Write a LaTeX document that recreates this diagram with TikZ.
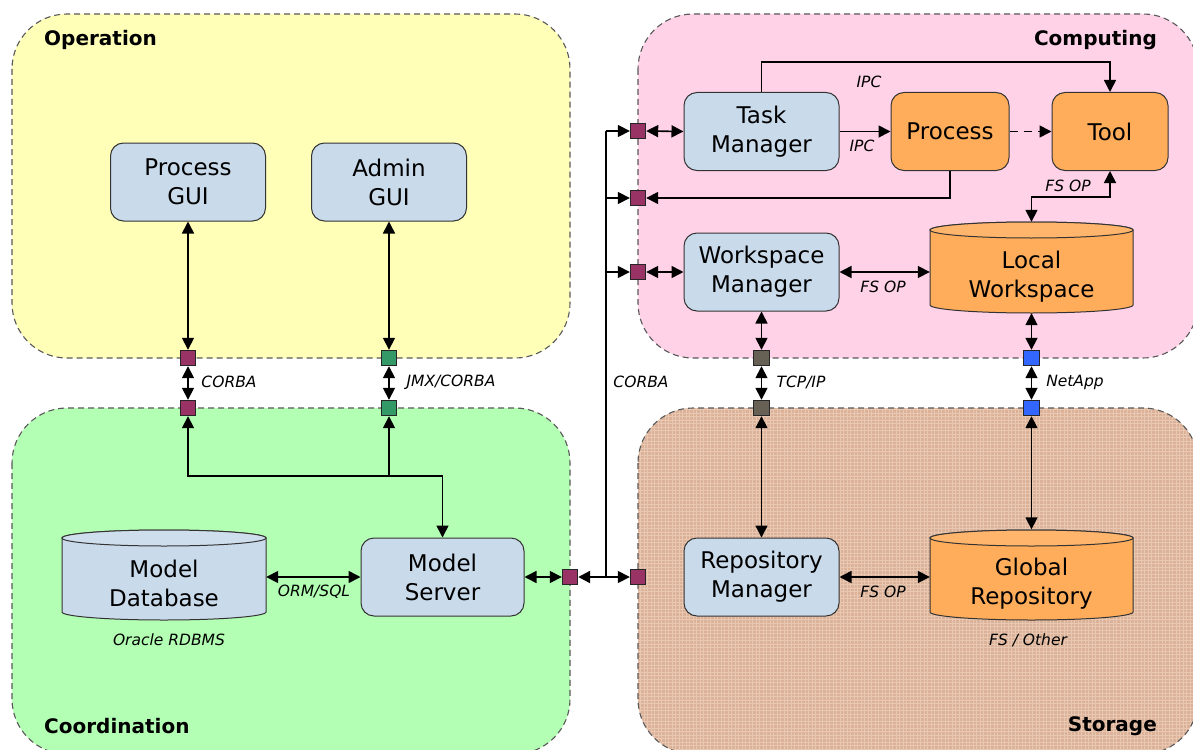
\documentclass[tikz,border=0pt]{standalone}
\usepackage{fontspec}
\setmainfont{DejaVu Sans}
\usetikzlibrary{arrows.meta}
\definecolor{opyel}{HTML}{FFFFB8}
\definecolor{cppink}{HTML}{FFD2E8}
\definecolor{cogreen}{HTML}{B3FFB3}
\definecolor{sttan}{HTML}{DBB197}
\definecolor{sttanl}{HTML}{E9C8B3}
\definecolor{nodeblue}{HTML}{C9DAEB}
\definecolor{nodeorange}{HTML}{FFAD5B}
\definecolor{pportpurple}{HTML}{993366}
\definecolor{pportgreen}{HTML}{339966}
\definecolor{pportgray}{HTML}{666055}
\definecolor{pportblue}{HTML}{3366FF}
\newcommand{\mycyl}[5]{% cx, cy, rx, halfbody, fill
  \begin{scope}[shift={(#1,#2)}]
    \draw[line width=1pt,draw=black!80,fill=#5] (-#3pt,#4pt) -- (-#3pt,-#4pt)
      arc[start angle=180,end angle=360,x radius=#3pt,y radius=8pt]
      -- (#3pt,#4pt)
      arc[start angle=0,end angle=180,x radius=#3pt,y radius=8pt] -- cycle;
    \draw[line width=1pt,draw=black!80,fill=#5!90!white] (0pt,#4pt) ellipse[x radius=#3pt,y radius=8pt];
  \end{scope}}
\begin{document}
\begin{tikzpicture}[x=1pt,y=-1pt,
  region/.style={draw=black!65,dash pattern=on 6pt off 4pt,line width=1.1pt,rounded corners=55pt},
  box/.style={draw=black!80,line width=1pt,rounded corners=13pt,fill=nodeblue,
     minimum width=155pt,minimum height=78pt,align=center,inner sep=0pt,
     font=\fontsize{23}{29}\selectfont},
  obox/.style={box,fill=nodeorange,minimum width=118pt},
  cyltext/.style={align=center,inner sep=0pt,font=\fontsize{23}{29}\selectfont},
  anchorbox/.style={minimum width=#1,minimum height=91pt,inner sep=0pt},
  port/.style={draw=black!85,line width=0.9pt,minimum size=15.5pt,inner sep=0pt},
  lbl/.style={font=\fontsize{15.5}{18}\selectfont\itshape,inner sep=0pt},
  title/.style={font=\fontsize{20}{24}\selectfont\bfseries,inner sep=0pt},
  arr/.style={line width=1.6pt,-{Triangle[length=12pt,width=12pt]}},
  dbl/.style={line width=1.6pt,{Triangle[length=12pt,width=12pt]}-{Triangle[length=12pt,width=12pt]}}
]
\clip (0,0) rectangle (1193,749);
\fill[white] (0,0) rectangle (1193,749);

% regions
\draw[region,fill=opyel] (12,14) rectangle (570,358);
\draw[region,fill=cppink] (638,14) rectangle (1198,358);
\draw[region,fill=cogreen] (12,408) rectangle (570,754);
\fill[sttan,rounded corners=55pt] (638,408) rectangle (1198,754);
\begin{scope}
  \clip[rounded corners=55pt] (638,408) rectangle (1198,754);
  \draw[sttanl,line width=0.7pt,step=3.5pt] (636,406) grid (1200,756);
\end{scope}
\draw[region] (638,408) rectangle (1198,754);

\node[title,anchor=west] (tOp) at (44,40) {Operation};
\node[title,anchor=east] (tCp) at (1157,40) {Computing};
\node[title,anchor=west] (tCo) at (44,726) {Coordination};
\node[title,anchor=east] (tSt) at (1157,726) {Storage};

% cylinders
\mycyl{1031.5}{267.5}{101.5}{37.5}{nodeorange}
\mycyl{164}{575}{102}{37}{nodeblue}
\mycyl{1031.5}{575}{101.5}{37}{nodeorange}
\node[anchorbox=203pt] (lw) at (1031.5,267.5) {};
\node[anchorbox=204pt] (mdb) at (164,575) {};
\node[anchorbox=203pt] (gr) at (1031.5,575) {};
\node[cyltext] (lwt) at (1031.5,277) {Local\\Workspace};
\node[cyltext] (mdbt) at (164,583) {Model\\Database};
\node[cyltext] (grt) at (1031.5,584) {Global\\Repository};

% boxes
\node[box] (pgui) at (188,182) {Process\\GUI};
\node[box] (agui) at (389,182) {Admin\\GUI};
\node[box] (tm) at (761.5,131.5) {Task\\Manager};
\node[obox] (proc) at (950,131.5) {Process};
\node[obox,minimum width=116pt] (tool) at (1110,131.5) {Tool};
\node[box] (wm) at (761.5,272) {Workspace\\Manager};
\node[box,minimum width=163pt] (ms) at (442.5,577) {Model\\Server};
\node[box] (rm) at (761.5,577) {Repository\\Manager};

% ports
\node[port,fill=pportpurple] (p1) at (188,358) {};
\node[port,fill=pportpurple] (p2) at (188,408) {};
\node[port,fill=pportgreen] (g1) at (389,358) {};
\node[port,fill=pportgreen] (g2) at (389,408) {};
\node[port,fill=pportgray] (s1) at (761.5,358) {};
\node[port,fill=pportgray] (s2) at (761.5,408) {};
\node[port,fill=pportblue] (n1) at (1031.5,358) {};
\node[port,fill=pportblue] (n2) at (1031.5,408) {};
\node[port,fill=pportpurple] (c1) at (570,577) {};
\node[port,fill=pportpurple] (c2) at (638,577) {};
\node[port,fill=pportpurple] (t1) at (638,131) {};
\node[port,fill=pportpurple] (t2) at (638,198) {};
\node[port,fill=pportpurple] (t3) at (638,272) {};

% coordinates
\coordinate (j1) at (442.5,476);
\coordinate (j2) at (389,476);
\coordinate (v) at (606,577);
\coordinate (vt) at (606,131);
\coordinate (k) at (1110,62);
\coordinate (f) at (1110,197);

% operation / coordination
\draw[dbl] (pgui.south) -- (p1.north);
\draw[dbl] (p1.south) -- (p2.north);
\draw[dbl] (agui.south) -- (g1.north);
\draw[dbl] (g1.south) -- (g2.north);
\draw[dbl] (p2.south) |- (j1) -- (ms.north);
\draw[arr] (j2) -- (g2.south);
\draw[dbl] (ms.west -| mdb.east) -- (ms.west);
\draw[dbl] (ms.east) -- (c1.west);

% CORBA bus
\draw[line width=2.4pt] (v) -- (vt);
\draw[arr,line width=2.2pt] (v) -- (c1.east);
\draw[arr] (v) -- (c2.west);
\draw[arr] (vt) -- (t1.west);
\draw[arr] (vt |- t2) -- (t2.west);
\draw[arr] (vt |- t3) -- (t3.west);

% computing
\draw[dbl] (t1.east) -- (tm.west);
\draw[arr] (proc.south) |- (t2.east);
\draw[dbl] (t3.east) -- (wm.west);
\draw[arr] (tm.east) -- (proc.west);
\draw[arr] (tm.north) |- (k) -- (tool.north);
\draw[arr,dash pattern=on 8pt off 6pt] (proc.east) -- (tool.west);
\draw[dbl] (lw.north) |- (f) -- (tool.south);
\draw[dbl] (wm.east) -- (wm.east -| lw.west);
\draw[dbl] (wm.south) -- (s1.north);
\draw[dbl] (s1.south) -- (s2.north);
\draw[dbl] (s2.south) -- (rm.north);
\draw[dbl] (lw.south) -- (n1.north);
\draw[dbl] (n1.south) -- (n2.north);
\draw[dbl] (n2.south) -- (gr.north);
\draw[dbl] (rm.east) -- (rm.east -| gr.west);

% labels
\node[lbl] (lcorba1) at (229,382) {CORBA};
\node[lbl] (ljmx) at (451,382) {JMX/CORBA};
\node[lbl] (lcorba2) at (641,382) {CORBA};
\node[lbl] (ltcp) at (801,382) {TCP/IP};
\node[lbl] (lnet) at (1075,382) {NetApp};
\node[lbl] (lorm) at (314,592) {ORM/SQL};
\node[lbl] (lora) at (169,640) {Oracle RDBMS};
\node[lbl] (lfso) at (1028,640) {FS / Other};
\node[lbl] (lfs1) at (883,592) {FS OP};
\node[lbl] (lfs2) at (883,287) {FS OP};
\node[lbl] (lfs3) at (1068,186) {FS OP};
\node[lbl] (lipc1) at (862,146) {IPC};
\node[lbl] (lipc2) at (869,82) {IPC};
\end{tikzpicture}
\end{document}
